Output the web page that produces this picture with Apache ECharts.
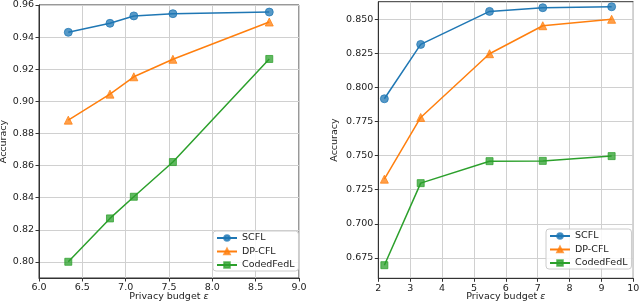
<!DOCTYPE html>
<html><head><meta charset="utf-8">
<script src="https://cdn.jsdelivr.net/npm/echarts@6/dist/echarts.min.js"></script>
<style>html,body{margin:0;padding:0;background:#fff}#c{width:640px;height:306px}</style>
</head><body><div id="c"></div>
<script>
// Left panel
const epsLeft = [6.338, 6.819, 7.094, 7.545, 8.657];
const scflLeft = [0.9430, 0.9486, 0.9532, 0.9546, 0.9556];
const dpcflLeft = [0.8883, 0.9045, 0.9153, 0.9262, 0.9494];
const codedLeft = [0.8001, 0.8271, 0.8406, 0.8622, 0.9264];
const yTicksLeft = [0.80, 0.82, 0.84, 0.86, 0.88, 0.90, 0.92, 0.94, 0.96];
// Right panel
const epsRight = [2.19, 3.33, 5.49, 7.16, 9.32];
const scflRight = [0.7916, 0.8314, 0.8556, 0.8583, 0.8590];
const dpcflRight = [0.7327, 0.7779, 0.8246, 0.8451, 0.8498];
const codedRight = [0.6697, 0.7298, 0.7459, 0.7461, 0.7496];
const yTicksRight = [0.675, 0.700, 0.725, 0.750, 0.775, 0.800, 0.825, 0.850];

const names = ['SCFL', 'DP-CFL', 'CodedFedL'];
const colors = ['#1f77b4', '#ff7f0e', '#2ca02c'];
const symbols = ['circle', 'triangle', 'rect'];
const font = 'DejaVu Sans';

function pairs(xs, ys) { return xs.map((x, i) => [x, ys[i]]); }

function mkSeries(idx, xs, ys, k) {
  return {
    name: names[k], type: 'line', xAxisIndex: idx, yAxisIndex: idx,
    data: pairs(xs, ys), symbol: symbols[k], symbolSize: k === 2 ? 7 : 8,
    lineStyle: { color: colors[k], width: 1.5 },
    itemStyle: { color: colors[k], opacity: 0.75, borderColor: colors[k], borderWidth: 1 },
    emphasis: { disabled: true }, animation: false, z: 3 + k
  };
}

const axisLineStyle = { show: true, lineStyle: { color: '#333', width: 1 } };
const tickStyle = { show: true, inside: false, length: 3.5, lineStyle: { color: '#333' } };
const gridLine = { show: true, lineStyle: { color: '#d0d0d0', width: 1 } };
const labelBase = { color: '#222', fontFamily: font, fontSize: 9.5 };
const nameStyle = { color: '#222', fontFamily: font, fontSize: 9.5, lineHeight: 11,
  rich: { i: { fontStyle: 'italic', fontFamily: font, fontSize: 9.5, lineHeight: 11, color: '#222' } } };

function legendAt(left, top) {
  return { orient: 'vertical', left: left, top: top, itemWidth: 20, itemHeight: 7, itemGap: 3.5,
    padding: [2, 4, 1, 3], backgroundColor: 'rgba(255,255,255,0.85)', borderColor: '#ccc', borderWidth: 1, borderRadius: 3,
    textStyle: { fontFamily: font, fontSize: 9.5, color: '#222' }, data: names, selectedMode: false };
}

const chart = echarts.init(document.getElementById('c'), null, { renderer: 'canvas' });
chart.setOption({
  animation: false,
  backgroundColor: '#fff',
  grid: [
    { left: 39, right: 341, top: 5, bottom: 28, show: true, borderColor: '#333', borderWidth: 1, containLabel: false, outerBoundsMode: 'none' },
    { left: 378.3, right: 6.7, top: 1.7, bottom: 27.7, show: true, borderColor: '#333', borderWidth: 1, containLabel: false, outerBoundsMode: 'none' }
  ],
  xAxis: [
    { type: 'value', gridIndex: 0, min: 6, max: 9, interval: 0.5,
      axisLine: axisLineStyle, axisTick: tickStyle, splitLine: gridLine,
      axisLabel: Object.assign({ formatter: v => v.toFixed(1), margin: 5 }, labelBase),
      name: 'Privacy budget {i|ε}', nameLocation: 'middle', nameGap: 13, nameMoveOverlap: false, nameTextStyle: nameStyle },
    { type: 'value', gridIndex: 1, min: 2, max: 10, interval: 1,
      axisLine: axisLineStyle, axisTick: tickStyle, splitLine: gridLine,
      axisLabel: Object.assign({ formatter: v => String(v), margin: 5 }, labelBase),
      name: 'Privacy budget {i|ε}', nameLocation: 'middle', nameGap: 13, nameMoveOverlap: false, nameTextStyle: nameStyle }
  ],
  yAxis: [
    { type: 'value', gridIndex: 0, min: 0.79, max: 0.96,
      axisLine: axisLineStyle,
      axisTick: Object.assign({ customValues: yTicksLeft }, tickStyle),
      splitLine: gridLine,
      axisLabel: Object.assign({ customValues: yTicksLeft, formatter: v => v.toFixed(2), margin: 5 }, labelBase),
      name: 'Accuracy', nameLocation: 'middle', nameGap: 30, nameMoveOverlap: false, nameTextStyle: { color: '#222', fontFamily: font, fontSize: 9.5 } },
    { type: 'value', gridIndex: 1, min: 0.6601, max: 0.8627,
      axisLine: axisLineStyle,
      axisTick: Object.assign({ customValues: yTicksRight }, tickStyle),
      splitLine: gridLine,
      axisLabel: Object.assign({ customValues: yTicksRight, formatter: v => v.toFixed(3), margin: 5 }, labelBase),
      name: 'Accuracy', nameLocation: 'middle', nameGap: 39, nameMoveOverlap: false, nameTextStyle: { color: '#222', fontFamily: font, fontSize: 9.5 } }
  ],
  legend: [legendAt(213, 231), legendAt(546, 229)],
  series: [
    mkSeries(0, epsLeft, scflLeft, 0), mkSeries(0, epsLeft, dpcflLeft, 1), mkSeries(0, epsLeft, codedLeft, 2),
    mkSeries(1, epsRight, scflRight, 0), mkSeries(1, epsRight, dpcflRight, 1), mkSeries(1, epsRight, codedRight, 2)
  ]
});
</script></body></html>
